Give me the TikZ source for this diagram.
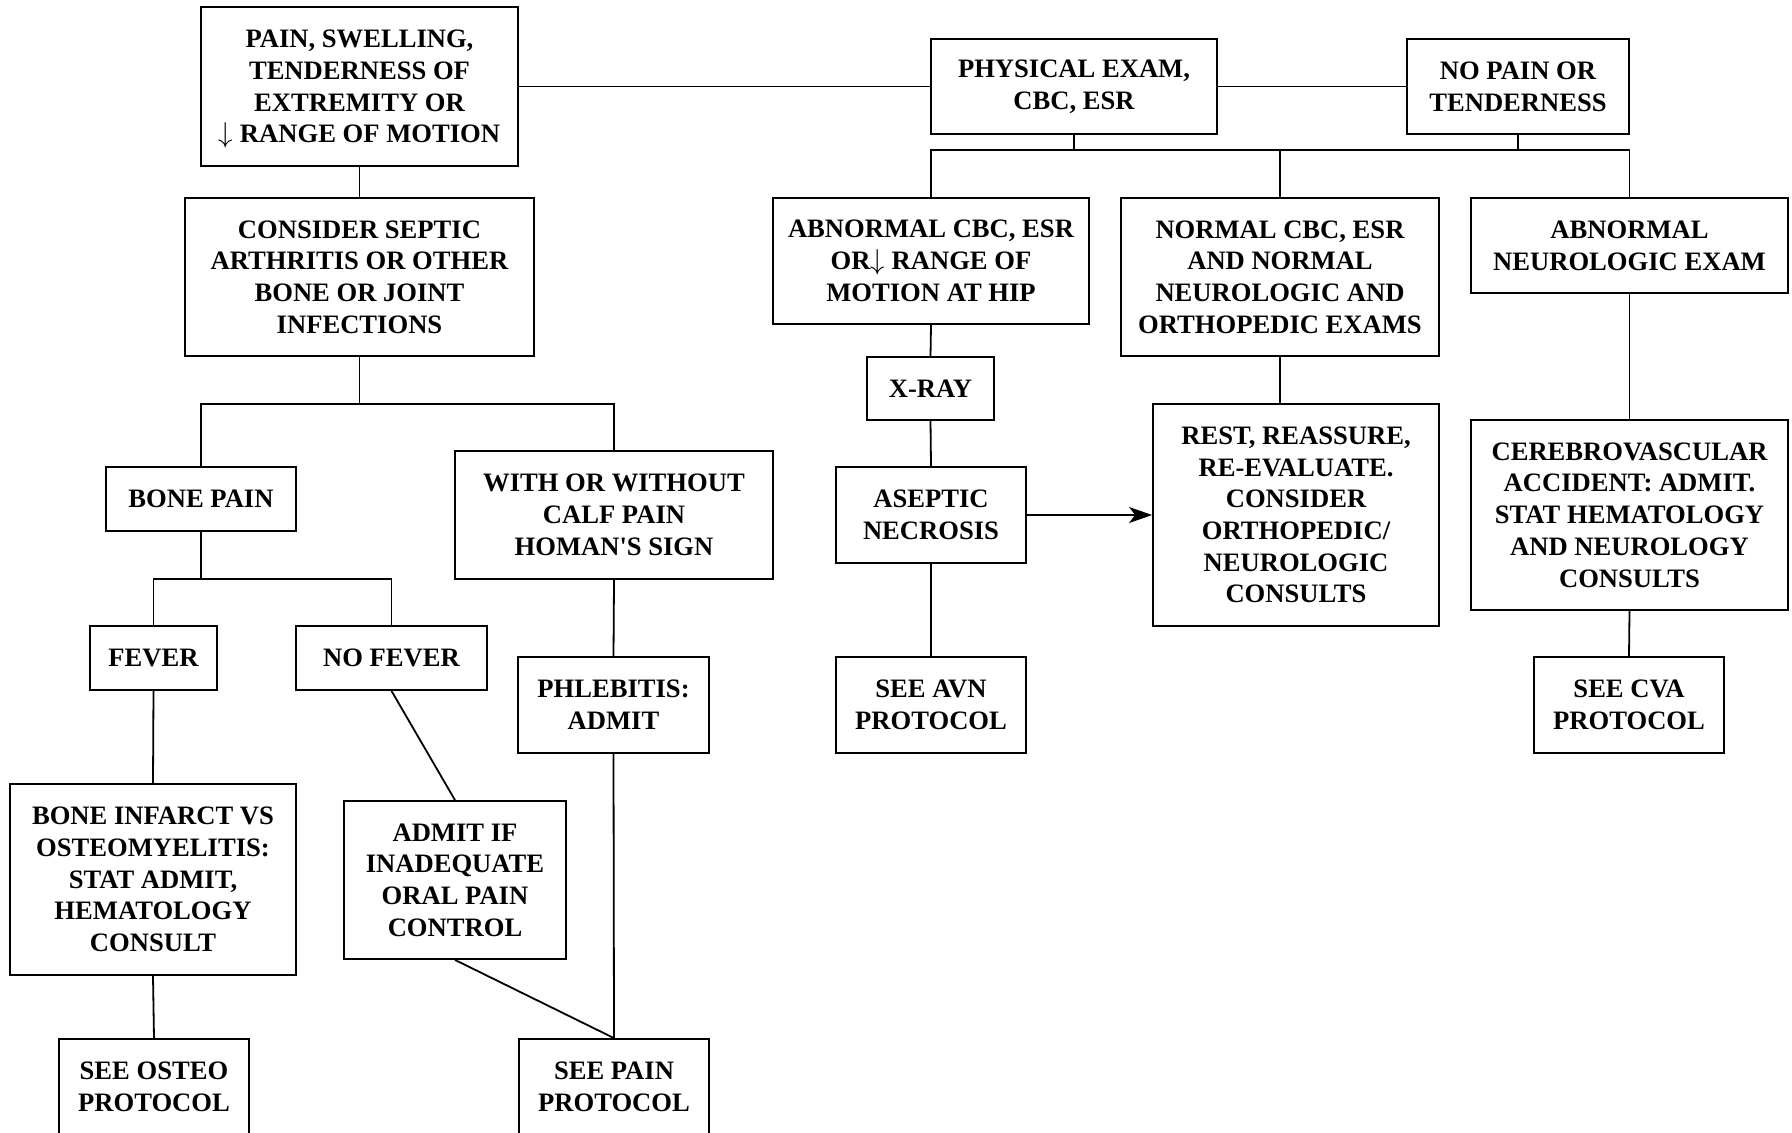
\documentclass[tikz,border=0pt]{standalone}
\usepackage{fontspec}
\setmainfont{Liberation Serif}
\usetikzlibrary{arrows.meta}

% box given by its corners (x1,y1) and (x2,y2) in pixel units
\newcommand\flowbox[6]{%
  \node[fbox, minimum width={(#4-#2)*0.5pt}, minimum height={(#5-#3)*0.5pt}]
    (#1) at ({(#2+#4)/2},{(#3+#5)/2}) {#6};}
\newcommand\dnarrow{\smash{$\downarrow$}}

\tikzset{
  fbox/.style={draw, line width=0.9pt, align=center, inner sep=0pt,
    font=\fontsize{13.3pt}{15.85pt}\selectfont\bfseries},
  link/.style={line width=0.9pt},
  linkarrow/.style={line width=0.9pt, -{Stealth[length=11.5pt, width=8pt, inset=3pt]}}
}

\begin{document}
\begin{tikzpicture}[x=0.5pt, y=-0.5pt]
\useasboundingbox (0,0) rectangle (1792,1132);
\fill[white] (0,0) rectangle (1792,1132);
\clip (0,0) rectangle (1792,1132);

% top row
\flowbox{pain}{201}{7}{518}{166}{PAIN, SWELLING,\\TENDERNESS OF\\EXTREMITY OR\\\dnarrow{} RANGE OF MOTION}
\flowbox{phys}{931}{39}{1217}{134}{PHYSICAL EXAM,\\CBC, ESR}
\flowbox{nopain}{1407}{39}{1629}{134}{NO PAIN OR\\TENDERNESS}

% right branch
\flowbox{abcbc}{773}{198}{1089}{324}{ABNORMAL CBC, ESR\\OR\dnarrow{} RANGE OF\\MOTION AT HIP}
\flowbox{normal}{1121}{198}{1439}{356}{NORMAL CBC, ESR\\AND NORMAL\\NEUROLOGIC AND\\ORTHOPEDIC EXAMS}
\flowbox{abneuro}{1471}{198}{1788}{293}{ABNORMAL\\NEUROLOGIC EXAM}
\flowbox{xray}{867}{357}{994}{420}{X-RAY}
\flowbox{aseptic}{836}{467}{1026}{563}{ASEPTIC\\NECROSIS}
\flowbox{rest}{1153}{404}{1439}{626}{REST, REASSURE,\\RE-EVALUATE.\\CONSIDER\\ORTHOPEDIC/\\NEUROLOGIC\\CONSULTS}
\flowbox{cva}{1471}{420}{1788}{610}{CEREBROVASCULAR\\ACCIDENT: ADMIT.\\STAT HEMATOLOGY\\AND NEUROLOGY\\CONSULTS}
\flowbox{avn}{836}{657}{1026}{753}{SEE AVN\\PROTOCOL}
\flowbox{seecva}{1534}{657}{1724}{753}{SEE CVA\\PROTOCOL}

% left branch
\flowbox{septic}{185}{198}{534}{356}{CONSIDER SEPTIC\\ARTHRITIS OR OTHER\\BONE OR JOINT\\INFECTIONS}
\flowbox{bonepain}{106}{467}{296}{531}{BONE PAIN}
\flowbox{calf}{455}{451}{773}{579}{WITH OR WITHOUT\\CALF PAIN\\HOMAN\textquotesingle S SIGN}
\flowbox{fever}{90}{626}{217}{690}{FEVER}
\flowbox{nofever}{296}{626}{487}{690}{NO FEVER}
\flowbox{phleb}{518}{657}{709}{753}{PHLEBITIS:\\ADMIT}
\flowbox{infarct}{10}{784}{296}{975}{BONE INFARCT VS\\OSTEOMYELITIS:\\STAT ADMIT,\\HEMATOLOGY\\CONSULT}
\flowbox{admitif}{344}{801}{566}{959}{ADMIT IF\\INADEQUATE\\ORAL PAIN\\CONTROL}
\flowbox{osteo}{59}{1039}{249}{1135}{SEE OSTEO\\PROTOCOL}
\flowbox{seepain}{519}{1039}{709}{1135}{SEE PAIN\\PROTOCOL}

% bus levels
\coordinate (busA) at (0,150);
\coordinate (busB) at (0,404);
\coordinate (busC) at (0,579);

% top row links
\draw[link] (pain.east) -- (phys.west);
\draw[link] (phys.east) -- (nopain.west);
\draw[link] (phys.south) -- (phys.south |- busA);
\draw[link] (nopain.south) -- (nopain.south |- busA);
\draw[link] (abcbc.north) |- (busA -| abneuro.north) -- (abneuro.north);
\draw[link] (normal.north) -- (normal.north |- busA);

% right branch links
\draw[link] (abcbc.south) -- (xray.north);
\draw[link] (xray.south) -- (aseptic.north);
\draw[link] (aseptic.south) -- (avn.north);
\draw[linkarrow] (aseptic.east) -- (rest.west);
\draw[link] (normal.south) -- (normal.south |- rest.north);
\draw[link] (abneuro.south) -- (cva.north);
\draw[link] (cva.south) -- (seecva.north);

% left branch links
\draw[link] (pain.south) -- (septic.north);
\draw[link] (septic.south) -- (septic.south |- busB);
\draw[link] (bonepain.north) |- (busB -| calf.north) -- (calf.north);
\draw[link] (bonepain.south) -- (bonepain.south |- busC);
\draw[link] (fever.north) |- (busC -| nofever.north) -- (nofever.north);
\draw[link] (fever.south) -- (infarct.north);
\draw[link] (infarct.south) -- (osteo.north);
\draw[link] (nofever.south) -- (admitif.north);
\draw[link] (admitif.south) -- (seepain.north);
\draw[link] (calf.south) -- (phleb.north);
\draw[link] (phleb.south) -- (seepain.north);
\end{tikzpicture}
\end{document}
